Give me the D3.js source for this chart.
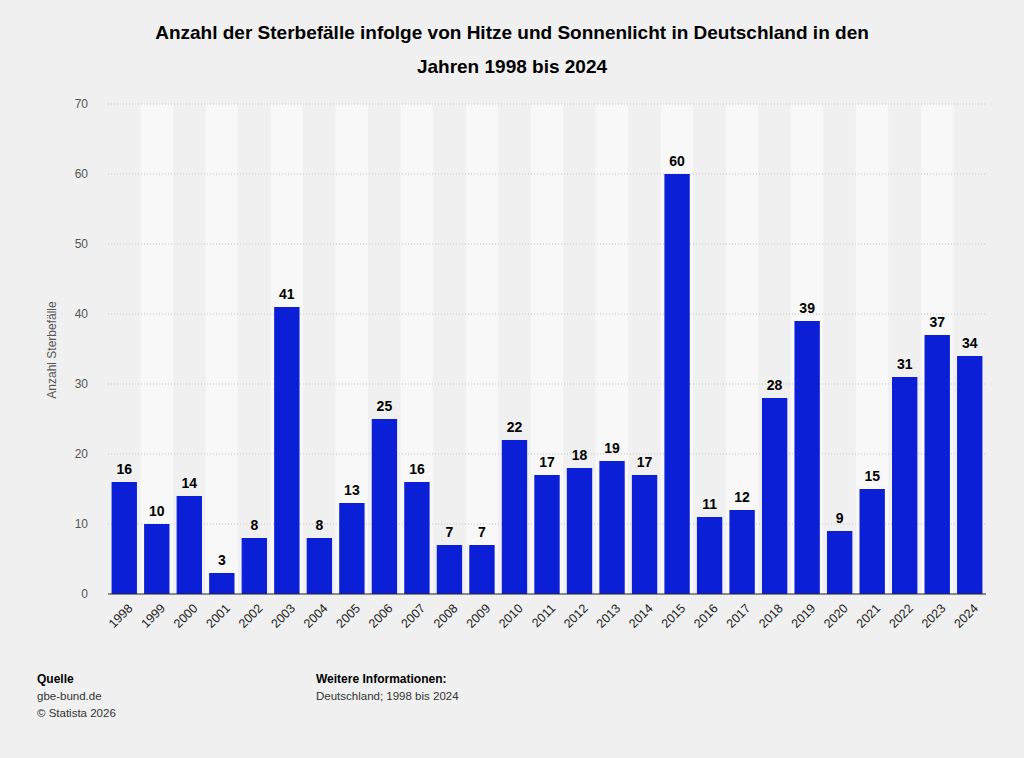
<!DOCTYPE html>
<html><head><meta charset="utf-8">
<script src="https://cdn.jsdelivr.net/npm/d3@7"></script>
<style>
body{margin:0;background:#f0f0f0;font-family:"Liberation Sans",Arial,sans-serif;}
</style></head>
<body><svg id="chart" width="1024" height="758"></svg>
<script>
var years = ['1998','1999','2000','2001','2002','2003','2004','2005','2006','2007','2008','2009','2010','2011','2012','2013','2014','2015','2016','2017','2018','2019','2020','2021','2022','2023','2024'];
var deaths = [16,10,14,3,8,41,8,13,25,16,7,7,22,17,18,19,17,60,11,12,28,39,9,15,31,37,34];
var yTicks = [0,10,20,30,40,50,60,70];

var svg = d3.select('#chart'),
    plotLeft = 108, plotRight = 986, plotTop = 104, plotBottom = 594;

svg.append('rect').attr('width',1024).attr('height',758).attr('fill','#f0f0f0');

var x = d3.scaleBand().domain(years).range([plotLeft,plotRight]).paddingInner(0.22).paddingOuter(0.11);
var band = d3.scaleBand().domain(years).range([plotLeft,plotRight]);
var y = d3.scaleLinear().domain([0,70]).range([plotBottom,plotTop]);

// alternating column bands
svg.append('g').selectAll('rect').data(years).join('rect')
   .attr('x', function(d){ return band(d); })
   .attr('y', plotTop)
   .attr('width', band.bandwidth())
   .attr('height', plotBottom - plotTop)
   .attr('fill', function(d,i){ return i % 2 ? '#f8f8f8' : '#f0f0f0'; });

// grid
svg.append('g').selectAll('line').data(yTicks.slice(1)).join('line')
   .attr('x1', plotLeft).attr('x2', plotRight)
   .attr('y1', function(d){ return y(d); }).attr('y2', function(d){ return y(d); })
   .attr('stroke', '#c4c4c4').attr('stroke-dasharray', '1,2');

// y axis
var yAxis = svg.append('g').attr('transform','translate(' + (plotLeft-20) + ',0)')
   .call(d3.axisLeft(y).tickValues(yTicks).tickSize(0).tickPadding(0));
yAxis.select('.domain').remove();
yAxis.selectAll('text').attr('font-size', 12).attr('fill', '#555').attr('font-family','"Liberation Sans",Arial,sans-serif');

svg.append('text').text('Anzahl Sterbefälle')
   .attr('transform','translate(56,350) rotate(-90)')
   .attr('text-anchor','middle').attr('font-size',12).attr('fill','#555');

// bars
svg.append('g').selectAll('rect').data(deaths).join('rect')
   .attr('x', function(d,i){ return x(years[i]); })
   .attr('y', function(d){ return y(d); })
   .attr('width', x.bandwidth())
   .attr('height', function(d){ return plotBottom - y(d); })
   .attr('fill', '#0b1fd6');

// value labels
svg.append('g').selectAll('text').data(deaths).join('text')
   .text(function(d){ return d; })
   .attr('x', function(d,i){ return x(years[i]) + x.bandwidth()/2; })
   .attr('y', function(d){ return y(d) - 8; })
   .attr('text-anchor','middle').attr('font-size',14).attr('font-weight','bold').attr('fill','#000');

// baseline
svg.append('line').attr('x1',plotLeft).attr('x2',plotRight).attr('y1',plotBottom).attr('y2',plotBottom)
   .attr('stroke','#222').attr('stroke-width',1.2);

// x axis labels
var xAxis = svg.append('g').attr('transform','translate(0,' + plotBottom + ')')
   .call(d3.axisBottom(x).tickSize(0).tickPadding(0));
xAxis.select('.domain').remove();
xAxis.selectAll('text')
   .attr('font-size',12.5).attr('fill','#222').attr('font-family','"Liberation Sans",Arial,sans-serif')
   .attr('text-anchor','end').attr('dy','0.35em')
   .attr('transform','translate(6,12) rotate(-45)');

// title
svg.append('text').text('Anzahl der Sterbefälle infolge von Hitze und Sonnenlicht in Deutschland in den')
   .attr('x',512).attr('y',39).attr('text-anchor','middle').attr('font-size',19).attr('font-weight','bold');
svg.append('text').text('Jahren 1998 bis 2024')
   .attr('x',512).attr('y',73).attr('text-anchor','middle').attr('font-size',19).attr('font-weight','bold');

// footer
svg.append('text').text('Quelle').attr('x',37).attr('y',683).attr('font-size',12).attr('font-weight','bold');
svg.append('text').text('gbe-bund.de').attr('x',37).attr('y',700).attr('font-size',11.5).attr('fill','#333');
svg.append('text').text('© Statista 2026').attr('x',37).attr('y',717).attr('font-size',11.5).attr('fill','#333');
svg.append('text').text('Weitere Informationen:').attr('x',316).attr('y',683).attr('font-size',12).attr('font-weight','bold');
svg.append('text').text('Deutschland; 1998 bis 2024').attr('x',316).attr('y',700).attr('font-size',11.5).attr('fill','#333');
</script>
</body></html>
